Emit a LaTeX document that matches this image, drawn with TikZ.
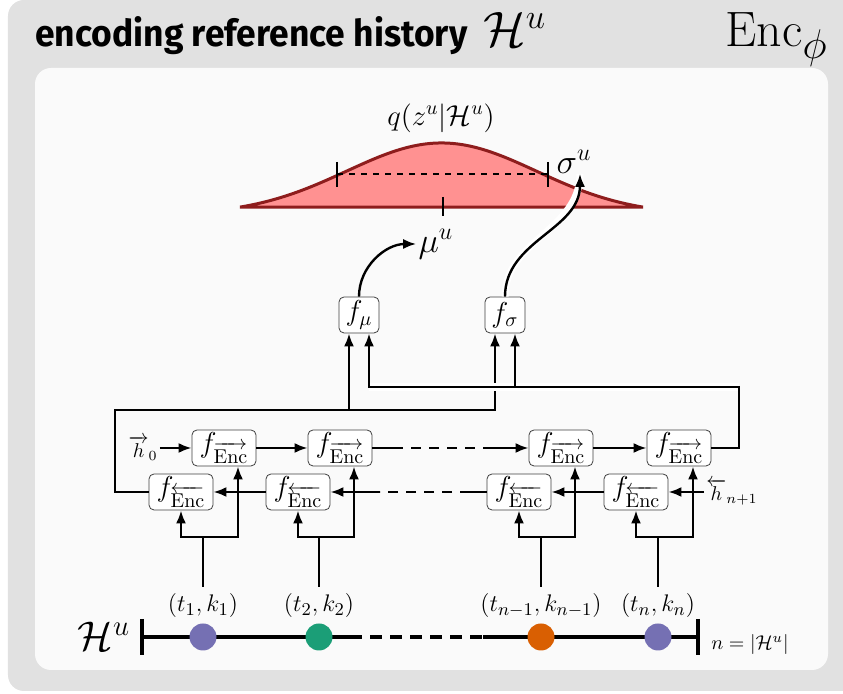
\documentclass[tikz,border=0pt]{standalone}
\usepackage{fontspec}
\setsansfont{Fira Sans}
\usepackage{amsmath}
\usepackage{graphicx}
\usepackage{tikz}
\usetikzlibrary{arrows.meta,positioning}

\definecolor{outerbg}{HTML}{E1E1E1}
\definecolor{innerbg}{HTML}{FAFAFA}
\definecolor{gaussfill}{HTML}{FF9191}
\definecolor{gaussline}{HTML}{8E1D1D}
\definecolor{evpurple}{HTML}{7570B3}
\definecolor{evgreen}{HTML}{1B9E77}
\definecolor{evorange}{HTML}{D95F02}

\begin{document}
\begin{tikzpicture}[x=0.5pt,y=-0.5pt,
  encbox/.style={draw=black!75,fill=white,rounded corners=2.5pt,minimum width=32pt,minimum height=18pt,inner sep=0.5pt,font=\Large},
  headbox/.style={encbox,minimum width=20pt},
  arr/.style={-{Latex[length=6.5pt,width=5pt]},line width=1.2pt},
  link/.style={line width=1.2pt},
  halo/.style={white,line width=4pt},
  tline/.style={line width=2pt},
  bar/.style={line width=2.4pt},
  ev/.style={circle,minimum size=13.5pt,inner sep=0pt},
  evlabel/.style={font=\fontsize{13}{15}\selectfont},
  gauss/.style={fill=gaussfill,draw=gaussline,line width=1.5pt},
  tickmark/.style={line width=1.2pt}]
\useasboundingbox (0,0) rectangle (843,694);
\fill[outerbg,rounded corners=8pt] (8,0) rectangle (880,691);
\fill[innerbg,rounded corners=8pt] (35,68) rectangle (828,670);

% title
\node[anchor=base west,inner sep=0] (ttl) at (35,47) {\sffamily\resizebox{216pt}{15pt}{\bfseries encoding reference history}};
\node[anchor=base west,inner sep=0,font=\fontsize{26}{30}\selectfont] (tH) at (483,47) {$\mathcal{H}^u$};
\node[anchor=base east,inner sep=0,font=\Huge] (enc) at (828,47) {$\mathrm{Enc}_\phi$};

% posterior
\filldraw[gauss] plot[domain=240:643,samples=120] (\x,{207-71.7*(exp(-0.5*((\x-441.5)/95)^2)-0.107)}) -- cycle;
\draw[tickmark] (443,197) -- (443,216);
\draw[tickmark,dashed] (337,174) -- (548,174);
\draw[tickmark] (337,162) -- (337,187);
\draw[tickmark] (548,162) -- (548,187);
\node[font=\Large] (q) at (441,118) {$q(z^u|\mathcal{H}^u)$};
\node[font=\LARGE,inner sep=1pt] (mu) at (436,244) {$\mu^u$};
\node[font=\LARGE,inner sep=0pt] (sig) at (574,162) {$\sigma^u$};

\node[headbox] (fmu) at (359,315) {$f_\mu$};
\node[headbox] (fsig) at (505,315) {$f_\sigma$};
\draw[arr] (fmu.north) to[out=90,in=180] (mu.west);
\draw[arr,preaction={-,draw=white,line width=3.5pt}] (fsig.north) to[out=90,in=-90] ([xshift=3pt]sig.south);

% forward rnn
\node[inner sep=1pt] (h0) at (143,448) {$\overrightarrow{h}_0$};
\node[encbox] (f1) at (224,448) {$f_{\overrightarrow{\mathrm{Enc}}}$};
\node[encbox] (f2) at (340,448) {$f_{\overrightarrow{\mathrm{Enc}}}$};
\node[encbox] (f3) at (561,448) {$f_{\overrightarrow{\mathrm{Enc}}}$};
\node[encbox] (f4) at (679,448) {$f_{\overrightarrow{\mathrm{Enc}}}$};
\coordinate (fa) at (393,448);
\coordinate (fb) at (483,448);
\draw[arr] (h0) -- (f1);
\draw[arr] (f1) -- (f2);
\draw[link] (f2) -- (fa);
\draw[link,dash pattern=on 5pt off 4pt] (fa) -- (fb);
\draw[arr] (fb) -- (f3);
\draw[arr] (f3) -- (f4);

% backward rnn
\node[encbox] (b1) at (181,492) {$f_{\overleftarrow{\mathrm{Enc}}}$};
\node[encbox] (b2) at (298,492) {$f_{\overleftarrow{\mathrm{Enc}}}$};
\node[encbox] (b3) at (519,492) {$f_{\overleftarrow{\mathrm{Enc}}}$};
\node[encbox] (b4) at (636,492) {$f_{\overleftarrow{\mathrm{Enc}}}$};
\node[anchor=west,inner sep=1pt] (hn) at (704,492) {$\overleftarrow{h}_{n+1}$};
\coordinate (ba) at (470,492);
\coordinate (bb) at (380,492);
\draw[arr] (hn.west) -- (b4);
\draw[arr] (b4) -- (b3);
\draw[link] (b3) -- (ba);
\draw[link,dash pattern=on 5pt off 4pt] (ba) -- (bb);
\draw[arr] (bb) -- (b2);
\draw[arr] (b2) -- (b1);

% to the heads
\coordinate (lo) at (115,410);
\coordinate (hi) at (739,387);
\draw[arr] (b1.west) -| (lo) -| ([xshift=-5pt]fsig.south);
\draw[arr] ([xshift=-5pt]fmu.south |- lo) -- ([xshift=-5pt]fmu.south);
\draw[halo] ([xshift=5pt]fmu.south |- hi) -- (hi);
\draw[arr] (f4.east) -| (hi) -| ([xshift=5pt]fmu.south);
\draw[arr] ([xshift=5pt]fsig.south |- hi) -- ([xshift=5pt]fsig.south);

% history
\coordinate (tl) at (142,637);
\coordinate (ta) at (350,637);
\coordinate (tb) at (483,637);
\coordinate (tr) at (698,637);
\draw[tline] (tl) -- (ta);
\draw[tline,dash pattern=on 6pt off 4pt] (ta) -- (tb);
\draw[tline] (tb) -- (tr);
\draw[bar] (142,619) -- (142,655);
\draw[bar] (698,619) -- (698,655);
\node[ev,fill=evpurple] (e1) at (203,637) {};
\node[ev,fill=evgreen] (e2) at (319,637) {};
\node[ev,fill=evorange] (e3) at (541,637) {};
\node[ev,fill=evpurple] (e4) at (658,637) {};
\node[evlabel] (l1) at (203,606) {$(t_1,k_1)$};
\node[evlabel] (l2) at (319,606) {$(t_2,k_2)$};
\node[evlabel] (l3) at (541,606) {$(t_{n-1},k_{n-1})$};
\node[evlabel] (l4) at (658,606) {$(t_n,k_n)$};
\node[font=\huge] (H) at (104,636) {$\mathcal{H}^u$};
\node (n) at (750,645) {$n=|\mathcal{H}^u|$};

% inputs
\coordinate (j1) at (203,537);
\coordinate (j2) at (319,537);
\coordinate (j3) at (541,537);
\coordinate (j4) at (658,537);
\draw[link] (l1.north) -- (j1);
\draw[arr] (j1) -| (b1.south);
\draw[arr] (j1) -| ([xshift=7pt]f1.south);
\draw[link] (l2.north) -- (j2);
\draw[arr] (j2) -| (b2.south);
\draw[arr] (j2) -| ([xshift=7pt]f2.south);
\draw[link] (l3.north) -- (j3);
\draw[arr] (j3) -| (b3.south);
\draw[arr] (j3) -| ([xshift=7pt]f3.south);
\draw[link] (l4.north) -- (j4);
\draw[arr] (j4) -| (b4.south);
\draw[arr] (j4) -| ([xshift=7pt]f4.south);
\end{tikzpicture}
\end{document}
